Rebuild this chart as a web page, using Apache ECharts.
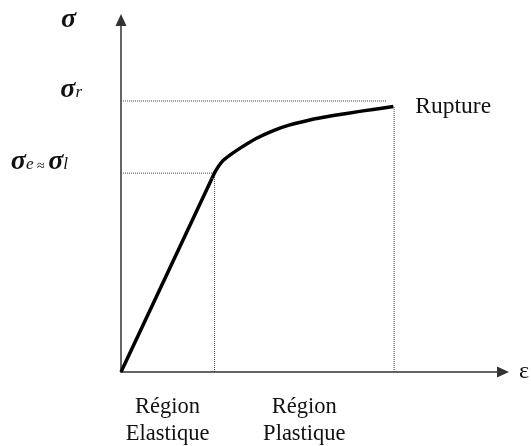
<!DOCTYPE html>
<html><head><meta charset="utf-8">
<script src="https://cdn.jsdelivr.net/npm/echarts@6/dist/echarts.min.js"></script>
<style>html,body{margin:0;padding:0;background:#fff}#c{width:531px;height:446px}</style>
</head><body><div id="c"></div>
<script>
// Stress–strain curve (arbitrary units: strain 0..10, stress 0..100)
const elasticX = [0, 2.38];
const elasticY = [0, 55.0];
const plasticX = [2.38, 2.47, 2.64, 2.85, 3.12, 3.55, 3.99, 4.42, 4.86, 5.30, 5.73, 6.17, 6.60, 7.13];
const plasticY = [55.0, 57.0, 59.7, 61.6, 63.6, 66.4, 68.6, 70.2, 71.4, 72.35, 73.15, 73.9, 74.6, 75.4];
const elasticLimitX = 2.45, elasticLimitY = 56.5;
const ruptureX = 7.15, ruptureY = 77.0, ruptureGuideEndX = 6.96, ruptureCurveY = 75.4;
const regionCenters = [1.22, 4.8];
const regionLabels = ['Région\nElastique', 'Région\nPlastique'];
const yTickValues = [elasticLimitY, ruptureY];
const yTickLabels = ['{s|σ}{sub|e}{ap| ≈ }{s|σ}{sub|l}{pad|}', '{s|σ}{sub|r}'];
const xName = 'ε', yName = 'σ', endName = 'Rupture';

const serif = '"Liberation Serif", "DejaVu Serif", serif';
const zip = (xs, ys) => xs.map((x, i) => [x, ys[i]]);
const dotted = { color: '#444', width: 1, type: 'dotted' };
const axisLine = { show: true, symbol: ['none', 'triangle'], symbolSize: [11, 12], lineStyle: { color: '#333', width: 1.5 } };

const chart = echarts.init(document.getElementById('c'), null, { renderer: 'canvas' });
chart.setOption({
  backgroundColor: '#fff',
  animation: false,
  grid: { left: 121, right: 28, top: 20, bottom: 74, outerBoundsMode: 'none' },
  xAxis: {
    type: 'value', min: 0, max: 10,
    splitLine: { show: false }, axisTick: { show: false }, axisLine: axisLine,
    name: xName, nameLocation: 'end', nameGap: 16,
    nameTextStyle: { fontFamily: serif, fontSize: 24, color: '#111', verticalAlign: 'middle' },
    axisLabel: {
      customValues: regionCenters, margin: 22,
      fontFamily: serif, fontSize: 22.5, lineHeight: 27, color: '#111',
      formatter: v => {
        let best = 0;
        regionCenters.forEach((c, i) => { if (Math.abs(c - v) < Math.abs(regionCenters[best] - v)) best = i; });
        return regionLabels[best];
      }
    }
  },
  yAxis: {
    type: 'value', min: 0, max: 100,
    splitLine: { show: false }, axisTick: { show: false }, axisLine: axisLine,
    name: yName, nameLocation: 'end', nameGap: 0,
    nameTextStyle: { fontFamily: serif, fontSize: 28, fontStyle: 'italic', fontWeight: 'bold', color: '#111', align: 'right', verticalAlign: 'middle', padding: [0, 45, 0, 0] },
    axisLabel: {
      customValues: yTickValues, margin: 39, align: 'right', verticalAlign: 'bottom',
      formatter: v => yTickLabels[Math.abs(v - yTickValues[0]) < Math.abs(v - yTickValues[1]) ? 0 : 1],
      rich: {
        s: { fontFamily: serif, fontSize: 28, fontStyle: 'italic', fontWeight: 'bold', color: '#111', lineHeight: 22, verticalAlign: 'middle' },
        sub: { fontFamily: serif, fontSize: 17, fontStyle: 'italic', color: '#111', verticalAlign: 'bottom', lineHeight: 22 },
        ap: { fontFamily: serif, fontSize: 14, color: '#111', verticalAlign: 'bottom', lineHeight: 22 },
        pad: { width: 14 }
      }
    }
  },
  series: [
    { type: 'line', data: zip(elasticX, elasticY), symbol: 'none', lineStyle: { color: '#000', width: 3.5 }, z: 5 },
    { type: 'line', data: zip(plasticX, plasticY), symbol: 'none', smooth: 0.3, lineStyle: { color: '#000', width: 3.5 }, z: 5,
      endLabel: { show: true, formatter: endName, distance: 22, fontFamily: serif, fontSize: 23.5, color: '#111' } },
    { type: 'line', data: [[0, elasticLimitY], [elasticLimitX, elasticLimitY]], symbol: 'none', lineStyle: dotted },
    { type: 'line', data: [[elasticLimitX, 0], [elasticLimitX, elasticLimitY]], symbol: 'none', lineStyle: dotted },
    { type: 'line', data: [[0, ruptureY], [ruptureGuideEndX, ruptureY]], symbol: 'none', lineStyle: dotted },
    { type: 'line', data: [[ruptureX, 0], [ruptureX, ruptureCurveY]], symbol: 'none', lineStyle: dotted }
  ]
});
</script></body></html>
